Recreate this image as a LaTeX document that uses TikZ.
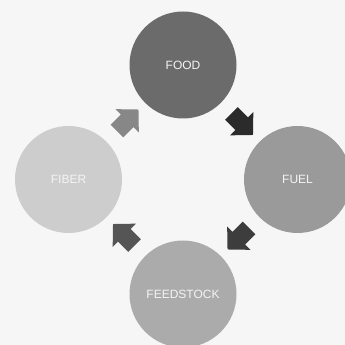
\documentclass[tikz,border=0pt]{standalone}
\usepackage{fontspec}
\setmainfont{Liberation Sans}
\usetikzlibrary{calc}

\definecolor{bgc}{HTML}{F6F6F6}
\definecolor{foodc}{HTML}{6B6B6B}
\definecolor{fuelc}{HTML}{9A9A9A}
\definecolor{feedc}{HTML}{ABABAB}
\definecolor{fiberc}{HTML}{CDCDCD}
\definecolor{arrA}{HTML}{2B2B2B}
\definecolor{arrB}{HTML}{3D3D3D}
\definecolor{arrC}{HTML}{555555}
\definecolor{arrD}{HTML}{878787}
\definecolor{labelc}{HTML}{F4F4F4}

\tikzset{
  x=1pt, y=1pt,
  stage/.style={circle, minimum size=107pt, inner sep=0pt, draw=none,
    text=labelc, font=\fontsize{12}{12}\selectfont},
  % block arrow: short shaft and a wide right-angled head, pointing along +x
  blockarrow/.pic={
    \fill[pic actions] (18,0) -- (2,16.5) -- (2,9) -- (-12.5,9)
      -- (-12.5,-9) -- (2,-9) -- (2,-16.5) -- cycle;
  }
}

\begin{document}
\begin{tikzpicture}
  \fill[bgc] (0,0) rectangle (345,345);
  \clip (0,0) rectangle (345,345);
  \useasboundingbox (0,0) rectangle (345,345);

  \coordinate (mid) at (183,165.5);
  \node[stage, fill=foodc]  (food)  at ($(mid)+(0,114.5)$)  {FOOD};
  \node[stage, fill=fuelc]  (fuel)  at ($(mid)+(114.5,0)$)  {FUEL};
  \node[stage, fill=feedc]  (feed)  at ($(mid)+(0,-114.5)$) {FEEDSTOCK};
  \node[stage, fill=fiberc] (fiber) at ($(mid)+(-114.5,0)$) {FIBER};

  \path ($(food)!0.5!(fuel)$)   pic[fill=arrA, rotate=-45]  {blockarrow};
  \path ($(fuel)!0.5!(feed)$)   pic[fill=arrB, rotate=-135] {blockarrow};
  \path ($(feed)!0.5!(fiber)$)  pic[fill=arrC, rotate=135]  {blockarrow};
  \path ($(fiber)!0.5!(food)$)  pic[fill=arrD, rotate=45]   {blockarrow};
\end{tikzpicture}
\end{document}
